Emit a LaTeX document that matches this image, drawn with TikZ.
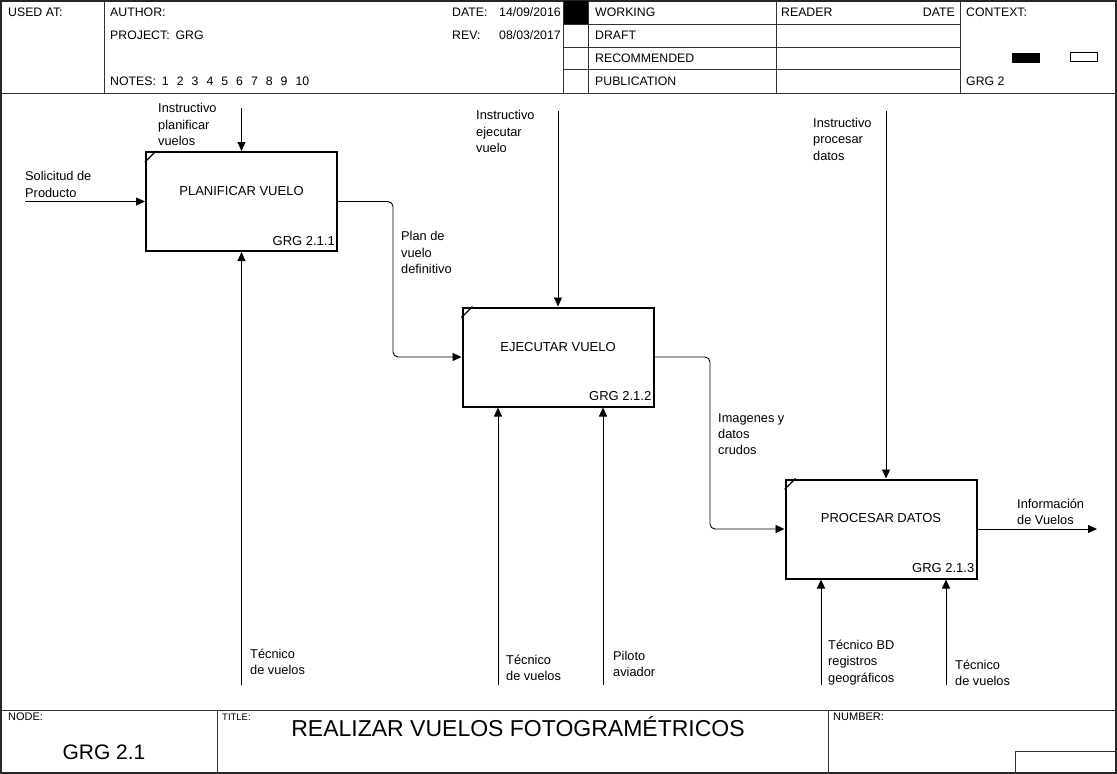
\documentclass[tikz,border=0pt]{standalone}
\usepackage{fontspec}
\setmainfont{Liberation Sans}
\usetikzlibrary{arrows.meta}
\begin{document}
\begin{tikzpicture}[x=1pt,y=-1pt,
  frameline/.style={line width=1.3pt, draw=black!85},
  gridline/.style={line width=0.9pt, draw=black!80},
  act/.style={draw, line width=2pt, minimum width=191pt, minimum height=99pt, inner sep=0pt},
  lbl/.style={anchor=north west, align=left, inner sep=0pt, font=\fontsize{12.8}{16.3}\selectfont},
  hdr/.style={anchor=west, inner sep=0pt, font=\fontsize{12.3}{14}\selectfont},
  small/.style={anchor=west, inner sep=0pt, font=\fontsize{11}{12}\selectfont},
  flow/.style={line width=0.9pt, -{Triangle[length=9pt,width=8pt]}},
  bentflow/.style={flow, rounded corners=5pt},
  acttext/.style={inner sep=0pt, font=\fontsize{13}{15}\selectfont},
  corner/.style={line width=1.2pt},
]
\useasboundingbox (0,0) rectangle (1117,774);
% ---------- outer frame ----------
\draw[frameline] (1,1) rectangle (1116,773);
% ---------- header ----------
\draw[gridline] (1,93) -- (1116,93);
\draw[gridline] (104,1) -- (104,93);
\fill (563,1) rectangle (588,24.5);
\draw[gridline] (563,1) -- (563,93);
\draw[gridline] (588,1) -- (588,93);
\draw[gridline] (776,1) -- (776,93);
\draw[gridline] (960,1) -- (960,93);
\draw[gridline] (563,24.5) -- (960,24.5);
\draw[gridline] (563,47) -- (960,47);
\draw[gridline] (563,69.5) -- (960,69.5);
\node[hdr] (usedat) at (8,12.5) {USED AT:};
\node[hdr] (author) at (110,12.5) {AUTHOR:};
\node[hdr] (project) at (110,35.5) {PROJECT:\hspace{6pt}GRG};
\node[hdr] (notes) at (110,81) {NOTES:\hspace{6pt}1\hspace{8pt}2\hspace{8pt}3\hspace{8pt}4\hspace{8pt}5\hspace{8pt}6\hspace{8pt}7\hspace{8pt}8\hspace{8pt}9\hspace{8pt}10};
\node[hdr] (datel) at (452,12.5) {DATE:};
\node[hdr] (datev) at (499,12.5) {14/09/2016};
\node[hdr] (revl) at (452,35.5) {REV:};
\node[hdr] (revv) at (499,35.5) {08/03/2017};
\node[hdr] (working) at (595,12.5) {WORKING};
\node[hdr] (draft) at (595,35.5) {DRAFT};
\node[hdr] (recom) at (595,58) {RECOMMENDED};
\node[hdr] (publ) at (595,81) {PUBLICATION};
\node[hdr] (reader) at (781,12.5) {READER};
\node[hdr, anchor=east] (rdate) at (955,12.5) {DATE};
\node[hdr] (context) at (966,12.5) {CONTEXT:};
\node[hdr] (grg2) at (966,81) {GRG 2};
\fill (1012,53) rectangle (1040,63);
\draw[line width=0.8pt] (1070,52) rectangle (1097,61);
% ---------- footer ----------
\draw[gridline] (1,710) -- (1116,710);
\draw[gridline] (217,710) -- (217,773);
\draw[gridline] (828,710) -- (828,773);
\draw[gridline] (1015,751) -- (1116,751);
\draw[gridline] (1015,751) -- (1015,773);
\node[small] (nodel) at (8,717) {NODE:};
\node[small, font=\fontsize{9.5}{11}\selectfont] (titlel) at (222,717) {TITLE:};
\node[small] (numberl) at (833,717) {NUMBER:};
\node[inner sep=0pt, font=\fontsize{21}{24}\selectfont] (nodev) at (104,752) {GRG 2.1};
\node[inner sep=0pt, font=\fontsize{23}{26}\selectfont] (titlev) at (518,727) {REALIZAR VUELOS FOTOGRAMÉTRICOS};
% ---------- activity boxes ----------
\node[act] (b1) at (241.5,201.5) {};
\node[act] (b2) at (558,357) {};
\node[act] (b3) at (881,529) {};
\draw[corner] ([yshift=-11pt]b1.north west) -- ([xshift=11pt]b1.north west);
\draw[corner] ([yshift=-11pt]b2.north west) -- ([xshift=11pt]b2.north west);
\draw[corner] ([yshift=-11pt]b3.north west) -- ([xshift=11pt]b3.north west);
\node[acttext] (t1) at (241.5,191.5) {PLANIFICAR VUELO};
\node[acttext] (t2) at (558,347) {EJECUTAR VUELO};
\node[acttext] (t3) at (881,518.5) {PROCESAR DATOS};
\node[acttext, anchor=east] (g1) at ([xshift=-3pt,yshift=11pt]b1.south east) {GRG 2.1.1};
\node[acttext, anchor=east] (g2) at ([xshift=-3pt,yshift=11pt]b2.south east) {GRG 2.1.2};
\node[acttext, anchor=east] (g3) at ([xshift=-3pt,yshift=11pt]b3.south east) {GRG 2.1.3};
% ---------- arrow end points ----------
\coordinate (in1) at (25,201.5);
\coordinate (c1) at (241.5,108);
\coordinate (m1) at (241.5,685);
\coordinate (k1) at (393,0);
\coordinate (c2) at (558,111);
\coordinate (m2a) at (498,685);
\coordinate (m2b) at (603,685);
\coordinate (k2) at (710,0);
\coordinate (c3) at (886,111);
\coordinate (m3a) at (821,685);
\coordinate (m3b) at (946,685);
\coordinate (out3) at (1097,529);
% ---------- connectors ----------
\draw[flow] (in1) -- (b1.west);
\draw[flow] (c1) -- (b1.north);
\draw[flow] (m1) -- (b1.south);
\draw[bentflow] (b1.east) -| (k1 |- b2.west) -- (b2.west);
\draw[flow] (c2) -- (b2.north);
\draw[flow] (m2a) -- (m2a |- b2.south);
\draw[flow] (m2b) -- (m2b |- b2.south);
\draw[bentflow] (b2.east) -| (k2 |- b3.west) -- (b3.west);
\draw[flow] (c3) -- (c3 |- b3.north);
\draw[flow] (m3a) -- (m3a |- b3.south);
\draw[flow] (m3b) -- (m3b |- b3.south);
\draw[flow] (b3.east) -- (out3);
% ---------- labels ----------
\node[lbl] (l1) at (158,103.5) {Instructivo\\planificar\\vuelos};
\node[lbl] (l2) at (25,171.5) {Solicitud de\\Producto};
\node[lbl] (l3) at (401,231.5) {Plan de\\vuelo\\definitivo};
\node[lbl] (l4) at (476,110.5) {Instructivo\\ejecutar\\vuelo};
\node[lbl] (l5) at (718,413) {Imagenes y\\datos\\crudos};
\node[lbl] (l6) at (813,118) {Instructivo\\procesar\\datos};
\node[lbl] (l7) at (1017,499) {Información\\de Vuelos};
\node[lbl] (l8) at (250,649) {Técnico\\de vuelos};
\node[lbl] (l9) at (506,655) {Técnico\\de vuelos};
\node[lbl] (l10) at (613,651) {Piloto\\aviador};
\node[lbl] (l11) at (828,640) {Técnico BD\\registros\\geográficos};
\node[lbl] (l12) at (955,660) {Técnico\\de vuelos};
\end{tikzpicture}
\end{document}
